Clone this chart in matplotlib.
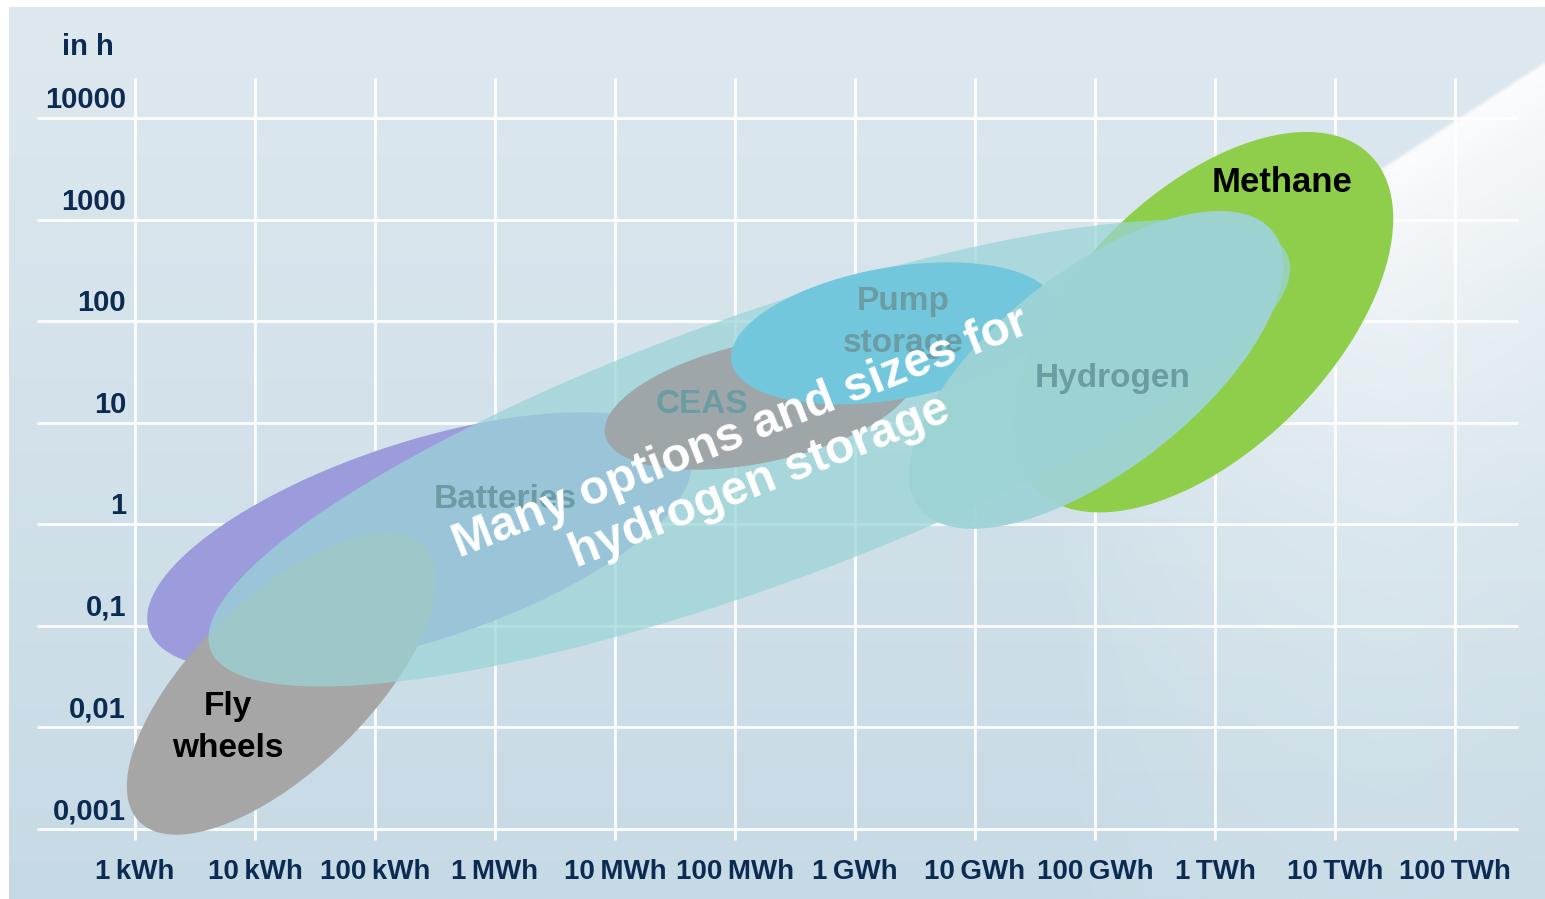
import numpy as np
import matplotlib
matplotlib.use("Agg")
import matplotlib.pyplot as plt
from matplotlib.patches import Polygon
from matplotlib import font_manager

# axis categories (log10 of kWh and of hours)
cap_exp = [0, 1, 2, 3, 4, 5, 6, 7, 8, 9, 10, 11]
cap_labels = ["1\u2009kWh", "10\u2009kWh", "100\u2009kWh", "1\u2009MWh", "10\u2009MWh",
              "100\u2009MWh", "1\u2009GWh", "10\u2009GWh", "100\u2009GWh", "1\u2009TWh",
              "10\u2009TWh", "100\u2009TWh"]
dur_exp = [-3, -2, -1, 0, 1, 2, 3, 4]
dur_labels = ["0,001", "0,01", "0,1", "1", "10", "100", "1000", "10000"]

# storage technologies: centre (log10 kWh, log10 h), half-spans (decades), tilt (deg)
tech = ["Batteries", "Fly wheels", "Methane", "Storage options", "CEAS",
        "Pump storage", "Hydrogen"]
tech_x = [2.37, 1.22, 8.90, 5.12, 5.21, 6.32, 8.01]
tech_y = [-0.17, -1.57, 1.99, 0.70, 1.20, 1.88, 1.52]
tech_long = [2.37, 1.65, 1.97, 4.78, 1.32, 1.37, 1.87]
tech_short = [0.83, 0.72, 1.07, 1.12, 0.50, 0.55, 0.83]
tech_tilt = [18, 44, 45, 20, 12, 10, 38]
tech_color = ["#9c9cdc", "#a6a6a6", "#8fce4b", "#9ad4d7", "#9ea6a9",
              "#72c7dc", "#9ed3d6"]
tech_alpha = [1, 1, 1, 0.73, 1, 1, 0.95]

names = {f.name for f in font_manager.fontManager.ttflist}
narrow = "Liberation Sans Narrow" if "Liberation Sans Narrow" in names else "Liberation Sans"
plt.rcParams["font.family"] = ["Liberation Sans", "DejaVu Sans"]

fig = plt.figure(figsize=(15.45, 8.99), dpi=100, facecolor="white")
ax = fig.add_axes([9 / 1545, 0, 1536 / 1545, 892 / 899])
x0, x1 = -1.05, 11.75
y0, y1 = -3.689, 5.093
ax.set_xlim(x0, x1)
ax.set_ylim(y0, y1)
ax.axis("off")
k = 120 / 101.57  # px per x-decade / px per y-decade

# background gradient
top = np.array([222, 232, 239]) / 255
bot = np.array([198, 218, 229]) / 255
g = np.linspace(0, 1, 300)[:, None, None]
bg = top * (1 - g) + bot * g
bg = np.repeat(bg, 2, axis=1)
ax.imshow(bg, extent=(x0, x1, y0, y1), aspect="auto", zorder=0)

# light beam in the upper right
nx, ny = 600, 360
px = np.linspace(9, 1545, nx)[None, :]
py = np.linspace(7, 899, ny)[:, None]
s = ((px - 1545) * 103 + (py - 60) * 158) / np.hypot(103, 158)
a = 0.9 * np.exp(-np.clip(s, 0, None) / 260) * np.clip((px - 1050) / 350, 0, 1)
a = np.where(s > 0, a, 0) * np.clip(s / 4, 0, 1)
beam = np.zeros((ny, nx, 4))
beam[..., :3] = 1
beam[..., 3] = a
ax.imshow(beam, extent=(x0, x1, y0, y1), aspect="auto", zorder=0.5,
          interpolation="bilinear")

# grid
ax.hlines(dur_exp, (37 - 135) / 120, (1518 - 135) / 120, color="white", lw=2, alpha=0.95, zorder=1)
ax.vlines(cap_exp, (524.3 - 840) / 101.57, (524.3 - 78) / 101.57, color="white", lw=2, alpha=0.95, zorder=1)


def ellipse(cx, cy, a, b, ang, **kw):
    t = np.linspace(0, 2 * np.pi, 300)
    th = np.radians(ang)
    dx = a * np.cos(t) * np.cos(th) - b * np.sin(t) * np.sin(th)
    dy = a * np.cos(t) * np.sin(th) + b * np.sin(t) * np.cos(th)
    return Polygon(np.column_stack([cx + dx, cy + dy * k]), closed=True, **kw)


for i in range(len(tech)):
    ax.add_patch(ellipse(tech_x[i], tech_y[i], tech_long[i], tech_short[i], tech_tilt[i],
                         facecolor=tech_color[i], edgecolor="none",
                         alpha=tech_alpha[i], zorder=2 + i))

navy = "#0c2b52"
for xe, lab in zip(cap_exp, cap_labels):
    ax.text(xe, (524.3 - 872) / 101.57, lab, ha="center", va="center",
            fontsize=20, fontweight="bold", color=navy, family=[narrow, "DejaVu Sans"])
for ye, lab in zip(dur_exp, dur_labels):
    ax.text(-0.075, ye + 0.177, lab, ha="right", va="center",
            fontsize=21, fontweight="bold", color=navy, family=[narrow, "DejaVu Sans"])
ax.text(-0.392, 4.70, "in h", ha="center", va="center", fontsize=21,
        fontweight="bold", color=navy, family=[narrow, "DejaVu Sans"])

faded = "#6b9ca3"
ax.text(9.558, 3.368, "Methane", ha="center", va="center", fontsize=25,
        fontweight="bold", color="black", zorder=20)
ax.text(0.775, -2.0, "Fly\nwheels", ha="center", va="center", fontsize=24,
        fontweight="bold", color="black", linespacing=1.45, zorder=20)
ax.text(6.4, 1.99, "Pump\nstorage", ha="center", va="center", fontsize=24,
        fontweight="bold", color=faded, linespacing=1.45, zorder=20)
ax.text(4.725, 1.18, "CEAS", ha="center", va="center", fontsize=24,
        fontweight="bold", color=faded, zorder=20)
ax.text(3.083, 0.24, "Batteries", ha="center", va="center", fontsize=24,
        fontweight="bold", color=faded, zorder=20)
ax.text(8.15, 1.44, "Hydrogen", ha="center", va="center", fontsize=24,
        fontweight="bold", color=faded, zorder=20)

ax.text(5.125, 0.653, "Many options and sizes for\nhydrogen storage", ha="center",
        va="center", rotation=21.5, rotation_mode="anchor", fontsize=34.5,
        fontweight="bold", color="white", zorder=30)

fig.savefig("out.png", dpi=100, facecolor="white")
